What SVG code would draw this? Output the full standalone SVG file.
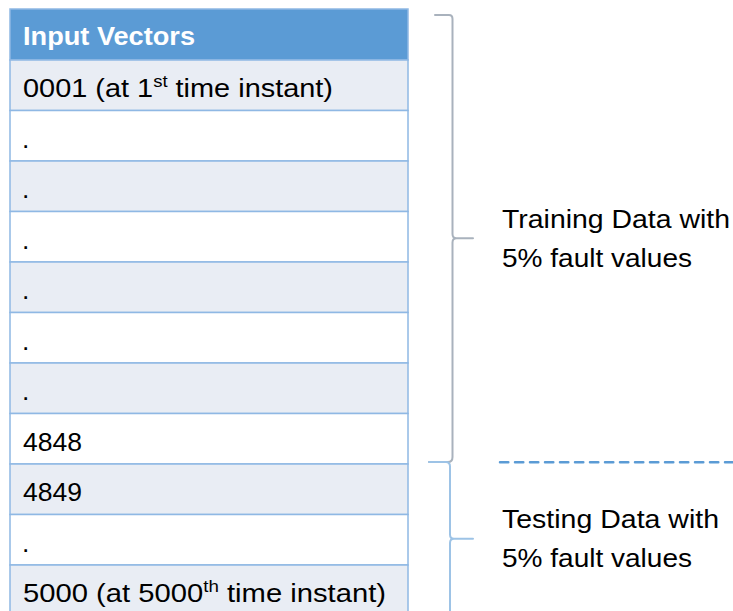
<svg xmlns="http://www.w3.org/2000/svg" width="733" height="611" viewBox="0 0 733 611">
<style>
.t{font-family:"Liberation Sans",Arial,sans-serif;font-size:26.5px;fill:#000}
.h{font-family:"Liberation Sans",Arial,sans-serif;font-size:26.5px;font-weight:bold;fill:#fff}
.l{fill:#e9edf4;stroke:#8fb8e4;stroke-width:1.5}
.w{fill:#ffffff;stroke:#8fb8e4;stroke-width:1.5}
.sup{font-size:17px}
</style>
<rect width="733" height="611" fill="#fff"/>
<g id="table">
<g id="header"><rect x="10" y="9" width="398" height="51" fill="#5b9bd5" stroke="#8fb8e4" stroke-width="1.5"/><text class="h" x="23" y="45" textLength="172" lengthAdjust="spacingAndGlyphs">Input Vectors</text></g>
<g id="row1"><rect class="l" x="10" y="60" width="398" height="50.5"/><text class="t" x="23" y="97" textLength="310" lengthAdjust="spacingAndGlyphs">0001 (at 1<tspan class="sup" dy="-10">st</tspan><tspan dy="10"> time instant)</tspan></text></g>
<g id="row2"><rect class="w" x="10" y="110.5" width="398" height="50.5"/><text class="t" x="22" y="147.5">.</text></g>
<g id="row3"><rect class="l" x="10" y="161" width="398" height="50.5"/><text class="t" x="22" y="198">.</text></g>
<g id="row4"><rect class="w" x="10" y="211.5" width="398" height="50.5"/><text class="t" x="22" y="248.5">.</text></g>
<g id="row5"><rect class="l" x="10" y="262" width="398" height="50.5"/><text class="t" x="22" y="299">.</text></g>
<g id="row6"><rect class="w" x="10" y="312.5" width="398" height="50.5"/><text class="t" x="22" y="349.5">.</text></g>
<g id="row7"><rect class="l" x="10" y="363" width="398" height="50.5"/><text class="t" x="22" y="400">.</text></g>
<g id="row8"><rect class="w" x="10" y="413.5" width="398" height="50.5"/><text class="t" x="23" y="450.5">4848</text></g>
<g id="row9"><rect class="l" x="10" y="464" width="398" height="50.5"/><text class="t" x="23" y="501">4849</text></g>
<g id="row10"><rect class="w" x="10" y="514.5" width="398" height="50.5"/><text class="t" x="22" y="551.5">.</text></g>
<g id="row11"><rect class="l" x="10" y="565" width="398" height="50.5"/><text class="t" x="23" y="602" textLength="363" lengthAdjust="spacingAndGlyphs">5000 (at 5000<tspan class="sup" dy="-10">th</tspan><tspan dy="10"> time instant)</tspan></text></g>
</g>
<g id="connectors" fill="none" stroke-linecap="round">
<path d="M435 15 L449 15 Q452.5 15 452.5 19 L452.5 234 Q452.5 238.3 456.5 238.3 L473 238.3 M456.5 238.3 Q452.5 238.3 452.5 242.5 L452.5 457 Q452.5 462 448 462 L429 462" stroke="#a9b2bd" stroke-width="2"/>
<path d="M429 462 L446 462 Q450 462 450 466.5 L450 534.5 Q450 538.7 454 538.7 L473 538.7 M454 538.7 Q450 538.7 450 543 L450 611" stroke="#9dc3e6" stroke-width="2"/>
<line x1="500" y1="462.3" x2="733" y2="462.3" stroke="#5b9bd5" stroke-width="2.5" stroke-dasharray="8.3 6.7"/>
</g>
<g id="training-label"><text class="t" x="502" y="227.5" textLength="228" lengthAdjust="spacingAndGlyphs">Training Data with</text><text class="t" x="502" y="267" textLength="190" lengthAdjust="spacingAndGlyphs">5% fault values</text></g>
<g id="testing-label"><text class="t" x="502" y="528" textLength="217" lengthAdjust="spacingAndGlyphs">Testing Data with</text><text class="t" x="502" y="567" textLength="190" lengthAdjust="spacingAndGlyphs">5% fault values</text></g>
</svg>
